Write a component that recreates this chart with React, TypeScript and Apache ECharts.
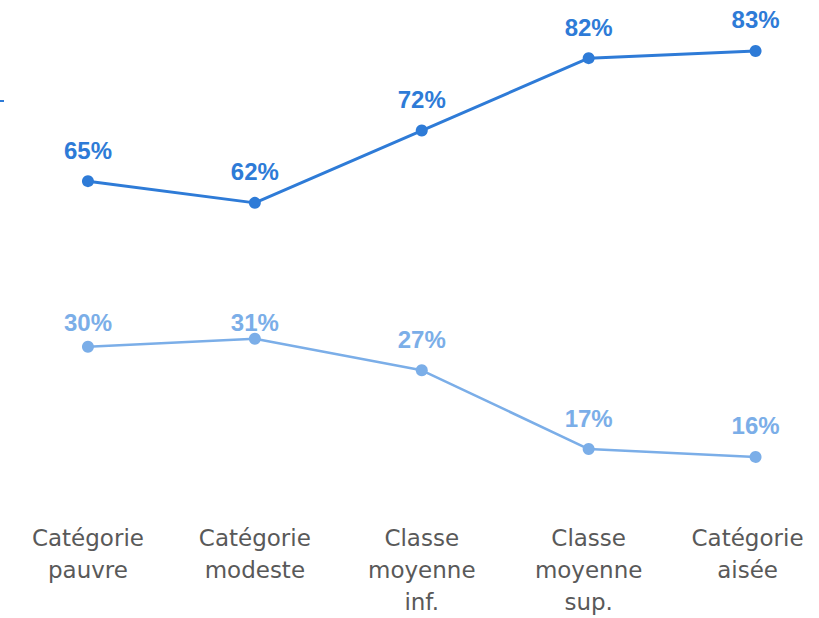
import React, { useEffect, useRef } from "react";
import * as echarts from "echarts";

const categories = [
  "Catégorie\npauvre",
  "Catégorie\nmodeste",
  "Classe\nmoyenne\ninf.",
  "Classe\nmoyenne\nsup.",
  "Catégorie\naisée",
];
const seriesA = [65, 62, 72, 82, 83];
const seriesB = [30, 31, 27, 17, 16];
const labelOffsetB = [7, 15, 0, 0, 0];

const DARK = "#2E7BD7";
const LIGHT = "#7BAEE8";

export default function App() {
  const ref = useRef<HTMLDivElement>(null);
  useEffect(() => {
    if (!ref.current) return;
    const chart = echarts.init(ref.current, undefined, { renderer: "svg" });
    const labelStyle = (color: string) => ({
      show: true,
      position: "top" as const,
      distance: 13,
      color,
      fontFamily: "Liberation Sans, Arial, sans-serif",
      fontWeight: "bold" as const,
      fontSize: 24,
      formatter: "{c}%",
    });
    const lastIdx = categories.length - 1;
    chart.setOption({
      animation: false,
      grid: {
        left: 4.5,
        width: 834.5,
        top: 0,
        height: 500,
        containLabel: false,
        outerBoundsMode: "none",
      },
      xAxis: {
        type: "category",
        data: categories.map((c, i) =>
          i === lastIdx ? { value: c, textStyle: { padding: [0, 16, 0, 0] } } : c
        ),
        boundaryGap: true,
        axisLine: { show: false },
        axisTick: { show: false },
        axisLabel: {
          interval: 0,
          margin: 22,
          color: "#595959",
          fontFamily: "DejaVu Sans, sans-serif",
          fontSize: 23,
          lineHeight: 32,
          align: "center",
        },
      },
      yAxis: [
        { type: "value", min: 20.93, max: 90.04, show: false, splitLine: { show: false } },
        { type: "value", min: 10.53, max: 74.03, show: false, splitLine: { show: false } },
      ],
      graphic: [
        { type: "rect", shape: { x: 0, y: 100, width: 4, height: 2 }, style: { fill: DARK } },
      ],
      series: [
        {
          type: "line",
          yAxisIndex: 0,
          data: seriesA,
          symbol: "circle",
          symbolSize: 12,
          itemStyle: { color: DARK },
          lineStyle: { color: DARK, width: 3 },
          label: labelStyle(DARK),
        },
        {
          type: "line",
          yAxisIndex: 1,
          data: seriesB.map((v, i) => ({
            value: v,
            label: { offset: [0, labelOffsetB[i]] },
          })),
          symbol: "circle",
          symbolSize: 12,
          itemStyle: { color: LIGHT },
          lineStyle: { color: LIGHT, width: 2.5 },
          label: labelStyle(LIGHT),
        },
      ],
    });
    return () => chart.dispose();
  }, []);
  return (
    <div
      ref={ref}
      style={{ position: "absolute", left: 0, top: 0, width: 819, height: 618, background: "#fff" }}
    />
  );
}
